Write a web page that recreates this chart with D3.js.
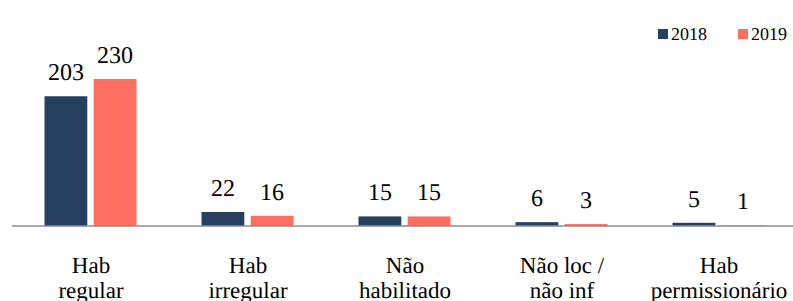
<!DOCTYPE html>
<html><head><meta charset="utf-8">
<script src="https://cdn.jsdelivr.net/npm/d3@7"></script>
<style>body{margin:0;background:#fff}svg{display:block}
svg text{text-rendering:geometricPrecision;}</style>
</head><body>
<script>
const categories = [["Hab","regular"],["Hab","irregular"],["Não","habilitado"],["Não loc /","não inf"],["Hab","permissionário"]];
const series = ["2018","2019"];
const values2018 = [203,22,15,6,5];
const values2019 = [230,16,15,3,1];
const colors = ["#253f60","#ff6f61"];

const W=793,H=301;
const FF='"Nimbus Roman", "Liberation Serif", FreeSerif, "Times New Roman", serif';
const svg=d3.select("body").append("svg").attr("width",W).attr("height",H);

const x0=d3.scaleBand().domain(d3.range(categories.length)).range([12,797]).paddingInner(0).paddingOuter(0);
const x1=d3.scaleBand().domain(series).range([-46,46]).paddingInner(0.13);
const y=d3.scaleLinear().domain([0,230]).range([226,79]);
const cx=i=>x0(i)+x0.bandwidth()/2;

const bars=[];
categories.forEach((c,i)=>{
  bars.push({i,k:0,v:values2018[i]});
  bars.push({i,k:1,v:values2019[i]});
});

svg.selectAll("rect.bar").data(bars).enter().append("rect")
  .attr("x",d=>cx(d.i)+x1(series[d.k])).attr("width",x1.bandwidth())
  .attr("y",d=>y(d.v)).attr("height",d=>y(0)-y(d.v)).attr("fill",d=>colors[d.k]);

svg.selectAll("text.val").data(bars).enter().append("text")
  .attr("x",d=>Math.round(cx(d.i)+x1(series[d.k])+x1.bandwidth()/2)).attr("y",d=>Math.round(y(d.v)-16))
  .attr("text-anchor","middle").style("font-family",FF).style("font-size","24px").attr("fill","#000")
  .text(d=>d.v);

svg.append("line").attr("x1",12).attr("x2",W).attr("y1",226).attr("y2",226)
  .attr("stroke","#8c8c8c").attr("stroke-width",1.5);

const lines=[];
categories.forEach((c,i)=>c.forEach((t,k)=>lines.push({i,k,t})));
svg.selectAll("text.cat").data(lines).enter().append("text")
  .attr("x",d=>Math.round(cx(d.i))).attr("y",d=>273+d.k*25)
  .attr("text-anchor","middle").style("font-family",FF).style("font-size","23px").attr("fill","#000")
  .text(d=>d.t);

series.forEach((s,k)=>{
  const lx=658+k*80;
  svg.append("rect").attr("x",lx).attr("y",29).attr("width",10).attr("height",10).attr("fill",colors[k]);
  svg.append("text").attr("x",lx+13).attr("y",40).style("font-family",FF).style("font-size","18px").attr("fill","#000").text(s);
});
</script>
</body></html>
